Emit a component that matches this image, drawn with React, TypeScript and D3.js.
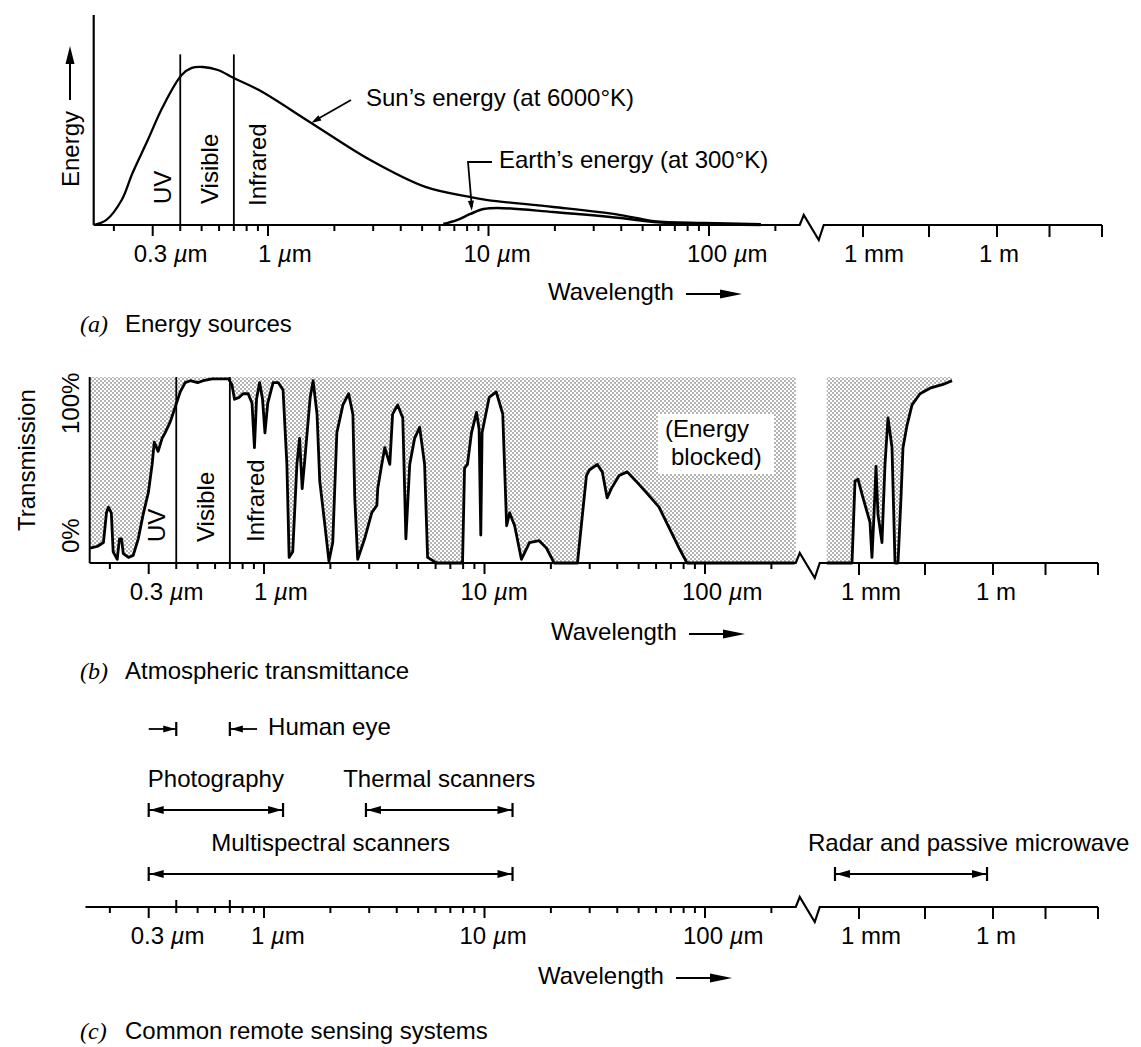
import React, { useEffect, useRef } from "react";
import * as d3 from "d3";

// wavelengths are in micrometres, energy in % of the sun's peak
const sunWavelength = [0.162, 0.185, 0.217, 0.243, 0.285, 0.333, 0.406, 0.451, 0.507, 0.593, 0.7, 0.91, 1.57, 2.91, 5.17, 8.28, 9.9, 19.7, 39.8, 56.2, 94.9, 172];
const sunEnergy = [0, 3.2, 15.8, 32.9, 53.8, 74.7, 94.9, 99.4, 100, 98.1, 93, 85.4, 64.6, 41.1, 24.1, 17.7, 15.8, 11.4, 6.3, 2.5, 1.3, 0.6];
const earthWavelength = [6.24, 7.23, 8.28, 9.49, 11.0, 19.7, 39.8, 56.2, 172];
const earthEnergy = [0.6, 3.2, 7.0, 10.1, 10.8, 8.2, 4.4, 1.9, 0];

// atmospheric transmission (%) left of the axis break
const transWavelength = [
  0.163, 0.176, 0.187, 0.193, 0.197, 0.203, 0.207, 0.216, 0.221, 0.226, 0.23, 0.243, 0.255, 0.269, 0.283, 0.299,
  0.311, 0.318, 0.331, 0.345, 0.356, 0.376, 0.396, 0.417, 0.439, 0.463, 0.5, 0.53, 0.582, 0.632, 0.69, 0.715,
  0.735, 0.77, 0.804, 0.847, 0.882, 0.905, 0.925, 0.955, 0.985, 1.01, 1.04, 1.1, 1.16, 1.22, 1.27, 1.3, 1.35,
  1.41, 1.45, 1.49, 1.53, 1.62, 1.67, 1.74, 1.79, 1.89, 1.97, 2.05, 2.14, 2.28, 2.42, 2.53, 2.58, 2.66, 2.86,
  3.08, 3.25, 3.28, 3.42, 3.53, 3.72, 3.83, 4.04, 4.26, 4.4, 4.58, 4.82, 5.08, 5.35, 5.52, 6.06, 7.95, 8.12,
  8.37, 8.73, 9.2, 9.45, 9.62, 9.75, 10.5, 11.3, 12.1, 12.6, 13.0, 13.7, 14.7, 16.0, 17.7, 19.1, 20.7, 26.4,
  29.0, 29.9, 32.5, 34.2, 36.0, 37.6, 40.8, 44.4, 48.7, 54.1, 61.9, 68.7, 76.3, 82.9, 255,
];
const transPercent = [
  8, 9, 11, 27, 30, 27, 6, 2, 13, 13, 5, 3, 4, 13, 26, 38,
  53, 65, 60, 67, 70, 76, 84, 92, 97, 98, 97, 98, 99, 99, 99, 96,
  88, 89, 91, 91, 86, 62, 88, 97, 88, 70, 86, 97, 97, 93, 53, 3, 6,
  53, 67, 40, 55, 89, 98, 80, 44, 20, 1, 11, 70, 85, 91, 80, 35, 2, 13,
  27, 31, 40, 53, 62, 53, 80, 85, 78, 13, 53, 67, 73, 53, 3, 0, 0, 51,
  53, 70, 81, 72, 15, 70, 89, 92, 80, 20, 27, 20, 2, 11, 12, 8, 0, 0,
  47, 50, 53, 49, 35, 40, 47, 49, 44, 38, 30, 19, 8, 0, 0,
];
// transmission right of the axis break (microwave region)
const farTransWavelength = [190, 697, 814, 950, 1230, 1760, 1950, 2170, 2400, 2660, 3270, 3820, 4460, 5480, 6400, 7470, 8710, 9660, 11900, 15400, 23200, 38900, 75900, 121000];
const farTransPercent = [0, 0, 44, 45, 35, 22, 3, 26, 52, 26, 11, 53, 78, 62, 0, 0, 35, 62, 74, 85, 91, 94, 96, 98];

const nearTicks = [0.2, 0.3, 0.4, 0.5, 0.6, 0.7, 0.8, 0.9, 1, 2, 3, 4, 5, 6, 7, 8, 9, 10, 20, 30, 40, 50, 60, 70, 80, 90, 100, 200];
const farTicks = [1e3, 3e4, 1e6, 1e7, 1e8];
const tickLabelValues = [0.3, 1, 10, 100, 1e3, 1e6];
const tickLabels = ["0.3", "1", "10", "100", "1 mm", "1 m"];

const bandEdges = [0.4, 0.7];
const bandNames = ["UV", "Visible", "Infrared"];

const systemNames = ["Photography", "Thermal scanners", "Multispectral scanners", "Radar and passive microwave"];
const systemFrom = [0.3, 2.9, 0.3, 290];
const systemTo = [1.22, 13.4, 13.4, 735000];
const systemRow = [0, 0, 1, 1];
const eyeRange = [0.4, 0.7];
const eyeOuter = [0.3, 0.93];

const W = 1141;
const H = 1047;
const FONT = "'Liberation Sans', Arial, sans-serif";
const FS = 24;

function makeScales(x0: number) {
  const near = d3.scaleLog().domain([1, 100]).range([x0, x0 + 441]);
  const far = d3.scaleLog().domain([1e3, 1e6, 1e8]).range([x0 + 595, x0 + 729, x0 + 834]);
  const any = (v: number) => (v <= 260 ? near(v) : far(v));
  return { near, far, any };
}

function arrowHead(g: any, tipX: number, tipY: number, dx: number, dy: number, len: number, half: number) {
  // dx, dy: unit direction the arrow points to
  const bx = tipX - dx * len;
  const by = tipY - dy * len;
  const px = -dy * half;
  const py = dx * half;
  g.append("path")
    .attr("d", `M${tipX},${tipY}L${bx + px},${by + py}L${bx - px},${by - py}Z`)
    .attr("fill", "#000");
}

function drawAxis(g: any, sc: any, y: number, left: number, shifts: number[], cross: boolean, wl: { x: number; y: number }) {
  const { near, far } = sc;
  const bx = near(250) + 3;
  const p = d3.path();
  p.moveTo(near(left), y);
  p.lineTo(bx, y);
  p.lineTo(bx + 4, y - 10);
  p.lineTo(bx + 19, y + 15);
  p.lineTo(bx + 24, y);
  p.lineTo(far(1e8), y);
  g.append("path").attr("d", p.toString()).attr("fill", "none").attr("stroke", "#000").attr("stroke-width", 2.2);

  nearTicks.forEach((v) => {
    const major = tickLabelValues.includes(v);
    const up = cross && bandEdges.includes(v) ? 7 : 0;
    g.append("line")
      .attr("x1", near(v)).attr("x2", near(v))
      .attr("y1", y - up).attr("y2", y + (major ? 11 : 6))
      .attr("stroke", "#000").attr("stroke-width", 2);
  });
  farTicks.forEach((v) => {
    g.append("line")
      .attr("x1", far(v)).attr("x2", far(v))
      .attr("y1", y).attr("y2", y + 12)
      .attr("stroke", "#000").attr("stroke-width", 2);
  });

  tickLabelValues.forEach((v, i) => {
    const t = g.append("text")
      .attr("x", sc.any(v) - shifts[i])
      .attr("y", y + 31)
      .attr("dominant-baseline", "middle");
    if (v < 500) {
      t.append("tspan").text(tickLabels[i] + "\u00a0");
      t.append("tspan").attr("font-style", "italic").text("\u00b5");
      t.append("tspan").text("m");
    } else {
      t.text(tickLabels[i]);
    }
  });

  g.append("text").attr("x", wl.x).attr("y", wl.y).attr("dominant-baseline", "middle").text("Wavelength");
  g.append("line").attr("x1", wl.x + 138).attr("x2", wl.x + 178).attr("y1", wl.y).attr("y2", wl.y)
    .attr("stroke", "#000").attr("stroke-width", 2);
  arrowHead(g, wl.x + 194, wl.y, 1, 0, 22, 4.5);
}

function caption(g: any, x: number, y: number, tag: string, label: string) {
  g.append("text").attr("x", x).attr("y", y).attr("dominant-baseline", "middle")
    .attr("font-family", "'Liberation Serif', 'Times New Roman', serif").attr("font-style", "italic").text(tag);
  g.append("text").attr("x", x + 45).attr("y", y).attr("dominant-baseline", "middle").text(label);
}

function rotText(g: any, x: number, y: number, s: string) {
  g.append("text")
    .attr("transform", `translate(${x},${y}) rotate(-90)`)
    .attr("dominant-baseline", "central")
    .text(s);
}

function draw(svgEl: SVGSVGElement) {
  const svg = d3.select(svgEl);
  svg.selectAll("*").remove();
  svg.attr("font-family", FONT).attr("font-size", FS).attr("fill", "#000");

  const defs = svg.append("defs");
  const pat = defs.append("pattern").attr("id", "stipple").attr("width", 4).attr("height", 4)
    .attr("patternUnits", "userSpaceOnUse");
  pat.append("rect").attr("width", 4).attr("height", 4).attr("fill", "#fff");
  pat.append("circle").attr("cx", 1).attr("cy", 1).attr("r", 0.8).attr("fill", "#555");
  pat.append("circle").attr("cx", 3).attr("cy", 3).attr("r", 0.8).attr("fill", "#555");

  // ---------- (a) Energy sources ----------
  const ga = svg.append("g");
  const sa = makeScales(268);
  const yE = d3.scaleLinear().domain([0, 100]).range([225, 67]);
  const leftA = sa.near(0.162);

  ga.append("line").attr("x1", leftA).attr("x2", leftA).attr("y1", 15).attr("y2", 225)
    .attr("stroke", "#000").attr("stroke-width", 2.2);

  bandEdges.forEach((v) => {
    ga.append("line").attr("x1", sa.near(v)).attr("x2", sa.near(v)).attr("y1", yE(108)).attr("y2", 225)
      .attr("stroke", "#000").attr("stroke-width", 1.8);
  });

  const energyLine = d3.line<[number, number]>()
    .curve(d3.curveCatmullRom.alpha(0.5));
  const sunPts = sunWavelength.map((w, i) => [sa.near(w), yE(sunEnergy[i])] as [number, number]);
  const earthPts = earthWavelength.map((w, i) => [sa.near(w), yE(earthEnergy[i])] as [number, number]);
  ga.append("path").attr("d", energyLine(sunPts)).attr("fill", "none").attr("stroke", "#000").attr("stroke-width", 2.3);
  ga.append("path").attr("d", energyLine(earthPts)).attr("fill", "none").attr("stroke", "#000").attr("stroke-width", 2.5);

  rotText(ga, sa.near(0.4) - 18, 204, bandNames[0]);
  rotText(ga, (sa.near(0.4) + sa.near(0.7)) / 2 + 2, 204, bandNames[1]);
  rotText(ga, sa.near(0.7) + 24, 206, bandNames[2]);

  drawAxis(ga, sa, 225, 0.162, [19, 10, 25, 22, 19, 18], false, { x: 548, y: 294 });

  // sun / earth annotations
  const sunTipX = sa.near(1.57);
  const sunTipY = yE(64.6);
  ga.append("line").attr("x1", 351).attr("y1", 100).attr("x2", sunTipX + 3).attr("y2", sunTipY - 2)
    .attr("stroke", "#000").attr("stroke-width", 1.8);
  arrowHead(ga, sunTipX, sunTipY, -0.87, 0.5, 10, 3);
  ga.append("text").attr("x", 366).attr("y", 100).attr("dominant-baseline", "middle").text("Sun\u2019s energy (at 6000\u00b0K)");

  const eTipX = sa.near(8.4);
  const eTipY = yE(9);
  ga.append("path").attr("d", `M492,162L468,162L${eTipX},${eTipY - 4}`)
    .attr("fill", "none").attr("stroke", "#000").attr("stroke-width", 1.8);
  arrowHead(ga, eTipX, eTipY, 0.09, 1, 10, 3);
  ga.append("text").attr("x", 499).attr("y", 162).attr("dominant-baseline", "middle").text("Earth\u2019s energy (at 300\u00b0K)");

  // energy label with arrow
  rotText(ga, 70, 187, "Energy");
  ga.append("line").attr("x1", 70).attr("x2", 70).attr("y1", 100).attr("y2", 62).attr("stroke", "#000").attr("stroke-width", 2);
  arrowHead(ga, 70, 46, 0, -1, 18, 4.5);

  caption(ga, 80, 326, "(a)", "Energy sources");

  // ---------- (b) Atmospheric transmittance ----------
  const gb = svg.append("g");
  const sb = makeScales(264);
  const yT = d3.scaleLinear().domain([0, 100]).range([563, 377]);
  const leftB = sb.near(0.162);

  gb.append("rect").attr("x", leftB).attr("y", yT(100)).attr("width", sb.near(258) - leftB).attr("height", yT(0) - yT(100))
    .attr("fill", "url(#stipple)");
  gb.append("rect").attr("x", sb.far(190)).attr("y", yT(100)).attr("width", sb.far(121000) - sb.far(190)).attr("height", yT(0) - yT(100))
    .attr("fill", "url(#stipple)");

  const nearPts = transWavelength.map((w, i) => [sb.near(w), transPercent[i]] as [number, number]);
  const farPts = farTransWavelength.map((w, i) => [sb.far(w), farTransPercent[i]] as [number, number]);
  const area = d3.area<[number, number]>().x((d) => d[0]).y0(yT(0)).y1((d) => yT(d[1]));
  const line = d3.line<[number, number]>().x((d) => d[0]).y((d) => yT(d[1]));
  [nearPts, farPts].forEach((pts) => {
    gb.append("path").attr("d", area(pts)).attr("fill", "#fff");
    gb.append("path").attr("d", line(pts)).attr("fill", "none").attr("stroke", "#000").attr("stroke-width", 2.8)
      .attr("stroke-linejoin", "round");
  });

  gb.append("line").attr("x1", leftB).attr("x2", leftB).attr("y1", yT(100)).attr("y2", yT(0))
    .attr("stroke", "#000").attr("stroke-width", 2);
  bandEdges.forEach((v) => {
    gb.append("line").attr("x1", sb.near(v)).attr("x2", sb.near(v)).attr("y1", yT(100)).attr("y2", yT(0))
      .attr("stroke", "#000").attr("stroke-width", 1.8);
  });
  rotText(gb, sb.near(0.4) - 20, 542, bandNames[0]);
  rotText(gb, (sb.near(0.4) + sb.near(0.7)) / 2 + 2, 542, bandNames[1]);
  rotText(gb, sb.near(0.7) + 26, 542, bandNames[2]);

  gb.append("rect").attr("x", 658).attr("y", 414).attr("width", 116).attr("height", 60).attr("fill", "#fff");
  gb.append("text").attr("x", 665).attr("y", 431).attr("dominant-baseline", "middle").text("(Energy");
  gb.append("text").attr("x", 671).attr("y", 459).attr("dominant-baseline", "middle").text("blocked)");

  drawAxis(gb, sb, 563, 0.162, [19, 10, 24, 23, 18, 17], false, { x: 551, y: 634 });

  rotText(gb, 26, 531, "Transmission");
  rotText(gb, 70, 434, "100%");
  rotText(gb, 70, 553, "0%");

  caption(gb, 80, 673, "(b)", "Atmospheric transmittance");

  // ---------- (c) Common remote sensing systems ----------
  const gc = svg.append("g");
  const sc = makeScales(264);
  const rowY = [810, 874];
  const eyeY = 729;

  const bar = (x1: number, x2: number, y: number) => {
    gc.append("line").attr("x1", x1).attr("x2", x2).attr("y1", y).attr("y2", y).attr("stroke", "#000").attr("stroke-width", 1.8);
    [x1, x2].forEach((x) => {
      gc.append("line").attr("x1", x).attr("x2", x).attr("y1", y - 7).attr("y2", y + 7).attr("stroke", "#000").attr("stroke-width", 2.2);
    });
    arrowHead(gc, x1 + 1, y, -1, 0, 14, 4);
    arrowHead(gc, x2 - 1, y, 1, 0, 14, 4);
  };

  systemNames.forEach((name, i) => {
    const x1 = sc.any(systemFrom[i]);
    const x2 = sc.any(systemTo[i]);
    const y = rowY[systemRow[i]];
    bar(x1, x2, y);
    const t = gc.append("text").attr("y", y - 29).attr("dominant-baseline", "middle").text(name);
    if (systemFrom[i] > 260) t.attr("x", x1 - 27);
    else t.attr("x", (x1 + x2) / 2).attr("text-anchor", "middle");
  });

  // human eye: arrows pointing in at 0.4 and 0.7 µm
  const e1 = sc.near(eyeRange[0]);
  const e2 = sc.near(eyeRange[1]);
  gc.append("line").attr("x1", sc.near(eyeOuter[0])).attr("x2", e1).attr("y1", eyeY).attr("y2", eyeY).attr("stroke", "#000").attr("stroke-width", 1.8);
  gc.append("line").attr("x1", e2).attr("x2", sc.near(eyeOuter[1])).attr("y1", eyeY).attr("y2", eyeY).attr("stroke", "#000").attr("stroke-width", 1.8);
  [e1, e2].forEach((x) => {
    gc.append("line").attr("x1", x).attr("x2", x).attr("y1", eyeY - 7).attr("y2", eyeY + 7).attr("stroke", "#000").attr("stroke-width", 2.2);
  });
  arrowHead(gc, e1 - 1, eyeY, 1, 0, 12, 3.5);
  arrowHead(gc, e2 + 1, eyeY, -1, 0, 12, 3.5);
  gc.append("text").attr("x", sc.near(eyeOuter[1]) + 11).attr("y", eyeY).attr("dominant-baseline", "middle").text("Human eye");

  drawAxis(gc, sc, 907, 0.155, [18, 13, 25, 22, 18, 17], true, { x: 538, y: 978 });

  caption(gc, 80, 1033, "(c)", "Common remote sensing systems");
}

export default function App() {
  const ref = useRef<SVGSVGElement>(null);
  useEffect(() => {
    if (ref.current) draw(ref.current);
  }, []);
  return (
    <svg
      ref={ref}
      width={W}
      height={H}
      style={{ position: "absolute", left: 0, top: 0, background: "#fff" }}
    />
  );
}
